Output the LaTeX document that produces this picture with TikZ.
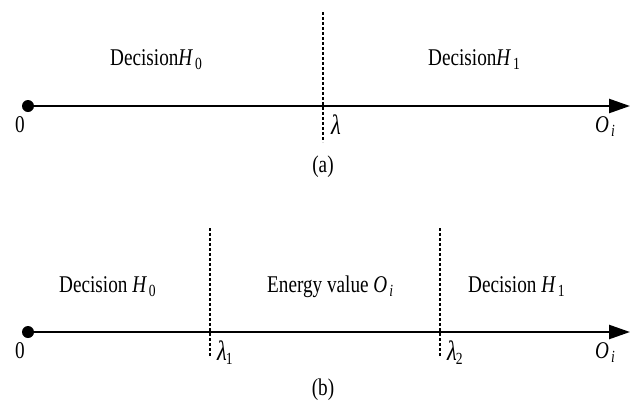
\documentclass[tikz,border=0pt]{standalone}
\usepackage{fontspec}
\setmainfont{Liberation Serif}[FakeStretch=0.8]
\usetikzlibrary{arrows.meta, positioning}
\newcommand{\sym}[2]{\textit{#1}\kern2pt\raisebox{-0.45ex}{\fontsize{17}{17}\selectfont #2}}

\begin{document}
\begin{tikzpicture}[
    x=1pt, y=-1pt,
    lbl/.style={anchor=base, inner sep=0pt, font=\fontsize{24}{28}\selectfont},
    axis/.style={-{Triangle[length=21pt, width=14pt]}, line width=2.4pt},
    thr/.style={dash pattern=on 3pt off 2pt, line width=1.5pt},
    dot/.style={circle, fill, inner sep=0pt, minimum size=12pt}
  ]
    \useasboundingbox (0,0) rectangle (631,400);
    % (a) one threshold
    \node[dot] (o1) at (28,106) {};
    \coordinate (e1) at (630,106);
    \draw[axis] (o1.center) -- (e1);
    \coordinate (t1) at (323,12);
    \coordinate (b1) at (323,142);
    \draw[thr] (t1) -- (b1);
    \node[lbl, anchor=base west] (h0a) at (110,65) {Decision\sym{H}{0}};
    \node[lbl, anchor=base west] (h1a) at (428,65) {Decision\sym{H}{1}};
    \node[lbl] (z1) at (20,132) {0};
    \node[lbl, anchor=base west, font=\fontsize{28}{28}\selectfont] (la) at (331,134) {\textit{λ}};
    \node[lbl, anchor=base west] (oa) at (595,132) {\sym{O}{\textit{i}}};
    \node[lbl] (capa) at (323,172) {(a)};
    % (b) two thresholds
    \node[dot] (o2) at (28,332) {};
    \coordinate (e2) at (630,332);
    \draw[axis] (o2.center) -- (e2);
    \coordinate (t2) at (210,228);
    \coordinate (b2) at (210,357);
    \coordinate (t3) at (440,228);
    \coordinate (b3) at (440,357);
    \draw[thr] (t2) -- (b2);
    \draw[thr] (t3) -- (b3);
    \node[lbl, anchor=base west] (h0b) at (59,292) {Decision \sym{H}{0}};
    \node[lbl, anchor=base west] (ev) at (267,292) {Energy value \sym{O}{\textit{i}}};
    \node[lbl, anchor=base west] (h1b) at (468,292) {Decision \sym{H}{1}};
    \node[lbl] (z2) at (20,358) {0};
    \node[lbl, anchor=base west] (l1) at (217,360) {{\fontsize{28}{28}\selectfont\textit{λ}}\kern-1pt\raisebox{-0.45ex}{\fontsize{17}{17}\selectfont 1}};
    \node[lbl, anchor=base west] (l2) at (447,360) {{\fontsize{28}{28}\selectfont\textit{λ}}\kern-1pt\raisebox{-0.45ex}{\fontsize{17}{17}\selectfont 2}};
    \node[lbl, anchor=base west] (ob) at (595,358) {\sym{O}{\textit{i}}};
    \node[lbl] (capb) at (323,395) {(b)};
  \end{tikzpicture}
\end{document}
